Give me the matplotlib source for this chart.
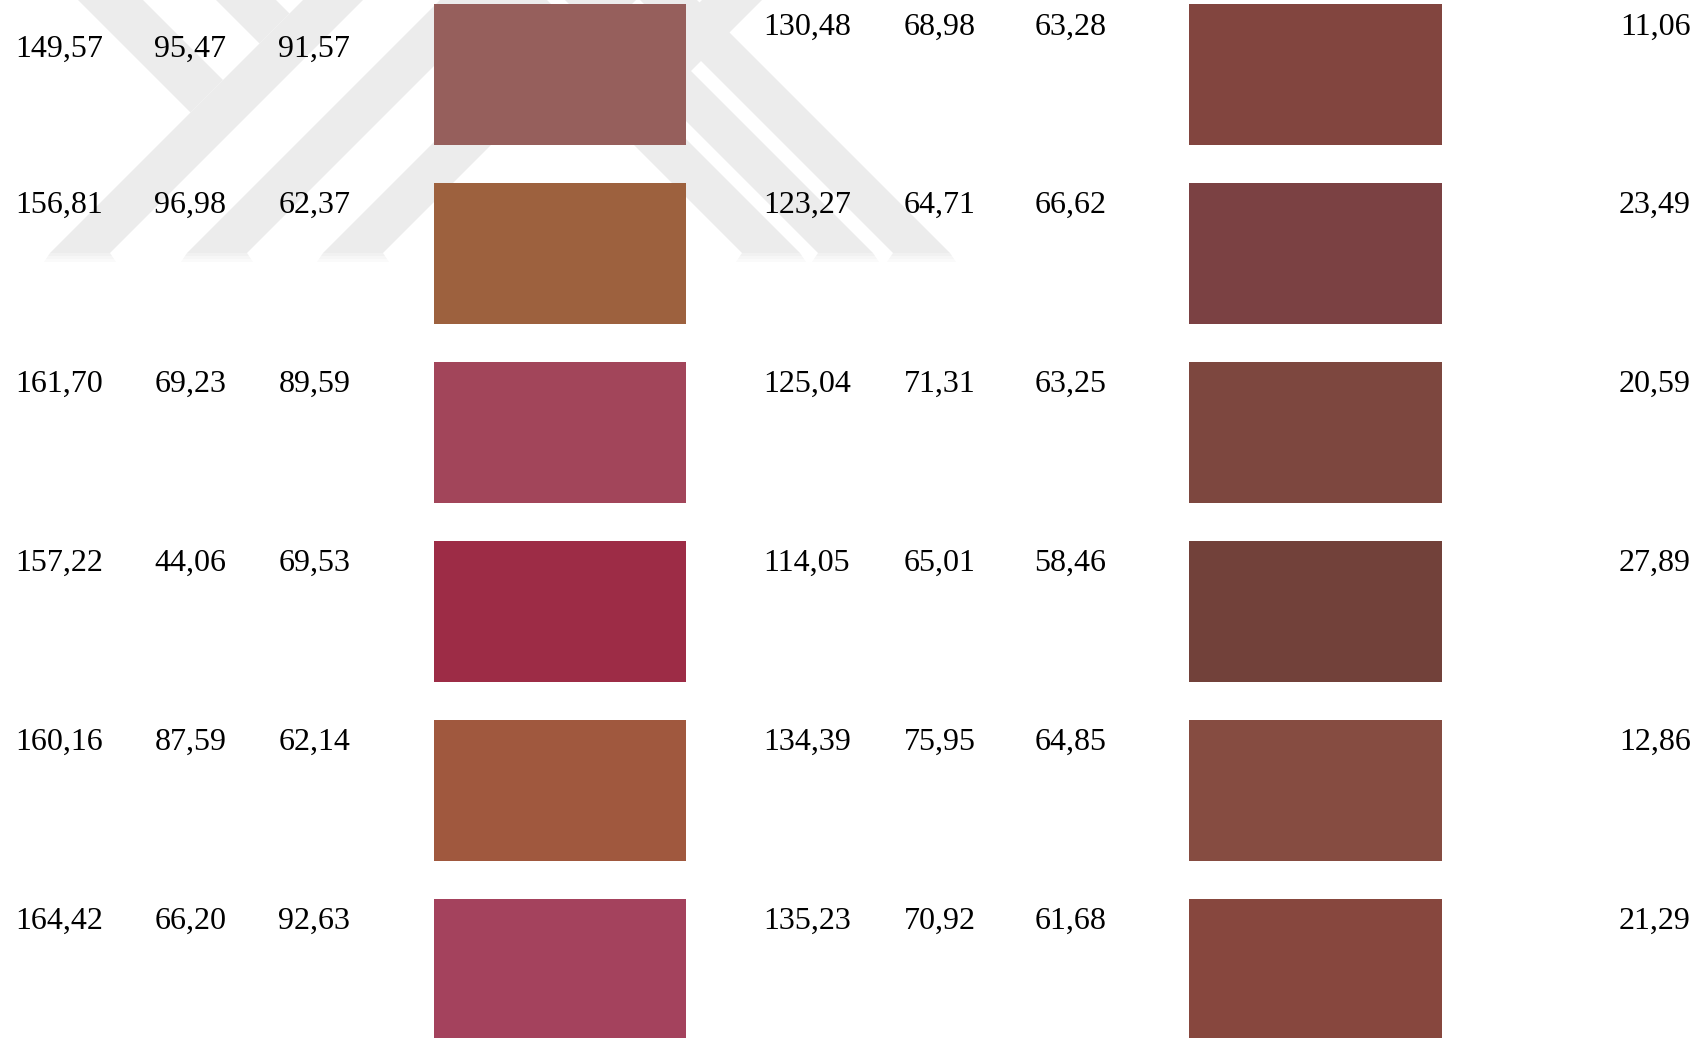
import matplotlib
matplotlib.use("Agg")
import matplotlib.pyplot as plt
from matplotlib.patches import Polygon

# ---- data ----
left_R = [149.57, 156.81, 161.70, 157.22, 160.16, 164.42]
left_G = [95.47, 96.98, 69.23, 44.06, 87.59, 66.20]
left_B = [91.57, 62.37, 89.59, 69.53, 62.14, 92.63]
right_R = [130.48, 123.27, 125.04, 114.05, 134.39, 135.23]
right_G = [68.98, 64.71, 71.31, 65.01, 75.95, 70.92]
right_B = [63.28, 66.62, 63.25, 58.46, 64.85, 61.68]
delta_E = [11.06, 23.49, 20.59, 27.89, 12.86, 21.29]

W, H = 1708, 1038
fig = plt.figure(figsize=(W / 100, H / 100), dpi=100)
ax = fig.add_axes([0, 0, 1, 1])
ax.set_xlim(0, W)
ax.set_ylim(H, 0)
ax.axis("off")

# ---- faint watermark (background) ----
wm = "#ececec"
YB = 253
def band_slash(xl, w=60):
    return [(xl, YB), (xl + w, YB), (xl + w + YB, 0), (xl + YB, 0)]
def band_back(xl, w=58):
    return [(xl, YB), (xl + w, YB), (xl + w - YB, 0), (xl - YB, 0)]
shapes = [
    band_slash(50), band_slash(187), band_slash(323),
    [(78, 0), (143, 0), (223, 80), (190.5, 112.5)],
    [(216, 0), (276, 0), (289.5, 13.5), (259.5, 43.5)],
    band_back(742), band_back(818, 55), band_back(893, 57),
    [(702, 0), (762, 0), (691, 71), (633.5, 68.5)],
]
for s in shapes:
    ax.add_patch(Polygon(s, closed=True, facecolor=wm, edgecolor="none", zorder=0))
    # soft fade below the cut ends
    xs = [p[0] for p in s if p[1] == YB]
    if len(xs) == 2:
        for k, c in enumerate(["#f1f1f1", "#f6f6f6", "#fafafa"]):
            ax.add_patch(Polygon([(xs[0] - 2 * k, YB + 3 * k), (xs[1] + 2 * k, YB + 3 * k),
                                  (xs[1] + 2 * k + 2, YB + 3 * k + 3), (xs[0] - 2 * k - 2, YB + 3 * k + 3)],
                                 closed=True, facecolor=c, edgecolor="none", zorder=0))

# ---- layout ----
n = len(left_R)
row_top = [4 + 179 * i for i in range(n)]
sw_h = 141
base = [34.5 + 178.8 * i for i in range(n)]

def rgb(r, g, b):
    return (r / 255, g / 255, b / 255)

left_cols = [rgb(r, g, b) for r, g, b in zip(left_R, left_G, left_B)]
right_cols = [rgb(r, g, b) for r, g, b in zip(right_R, right_G, right_B)]

ax.bar([560] * n, [sw_h] * n, width=252.5, bottom=row_top, color=left_cols, zorder=2)
ax.bar([1315.5] * n, [sw_h] * n, width=252.5, bottom=row_top, color=right_cols, zorder=2)

fmt = lambda v: f"{v:.2f}".replace(".", ",")
tk = dict(fontsize=23, family="Liberation Serif", color="black", va="baseline", zorder=3)
for i in range(n):
    yl = 57 if i == 0 else base[i]
    ax.text(15, yl, fmt(left_R[i]), ha="left", **tk)
    ax.text(154.5, yl, fmt(left_G[i]), ha="left", **tk)
    ax.text(278.5, yl, fmt(left_B[i]), ha="left", **tk)
    ax.text(763, base[i], fmt(right_R[i]), ha="left", **tk)
    ax.text(903.5, base[i], fmt(right_G[i]), ha="left", **tk)
    ax.text(1034.5, base[i], fmt(right_B[i]), ha="left", **tk)
    ax.text(1691, base[i], fmt(delta_E[i]), ha="right", **tk)

fig.savefig("out.png", dpi=100, facecolor="white")
